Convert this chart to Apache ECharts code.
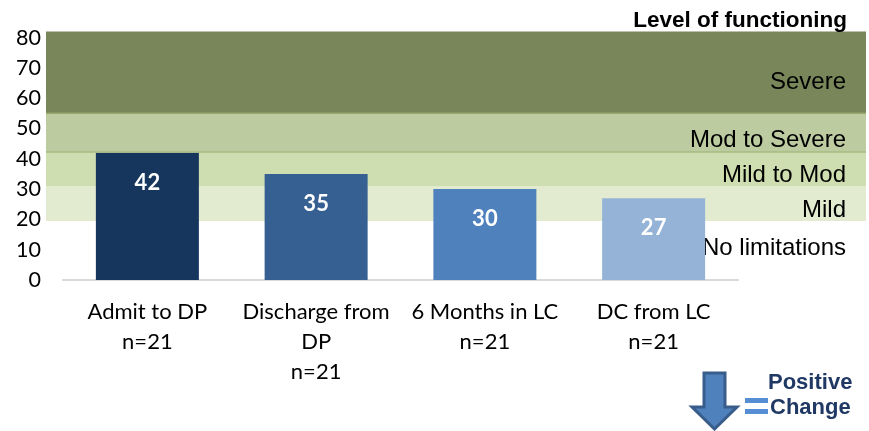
<!DOCTYPE html>
<html>
<head>
<meta charset="utf-8">
<script src="https://cdn.jsdelivr.net/npm/echarts@6/dist/echarts.min.js"></script>
<style>
html,body{margin:0;padding:0;background:#fff;}
#chart{width:869px;height:431px;}
</style>
</head>
<body>
<div id="chart"></div>
<script>
// ---- data ----
const categories = ['Admit to DP\nn=21', 'Discharge from\nDP\nn=21', '6 Months in LC\nn=21', 'DC from LC\nn=21'];
const values = [42, 35, 30, 27];
const barColors = ['#17365d', '#366092', '#4f81bd', '#95b3d7'];
const yMin = 0, yMax = 80, yInterval = 10;
const bandNames = ['No limitations', 'Mild', 'Mild to Mod', 'Mod to Severe', 'Severe'];
const bandBounds = [0, 19.5, 31, 42.2, 55.1, 82];
const bandColors = ['rgba(0,0,0,0)', '#e2eacf', '#cfdeb0', '#bccba0', '#78865a'];
const bandLabelOffsets = [-2, 6.5, 6.5, 7.5, 10];
const titleText = 'Level of functioning';

const chart = echarts.init(document.getElementById('chart'), null, {renderer: 'canvas'});

const bandAreas = bandNames.map((n, i) => [
  {yAxis: bandBounds[i], itemStyle: {color: bandColors[i]}},
  {yAxis: bandBounds[i + 1]}
]);
const labelAreas = bandNames.map((n, i) => [
  {yAxis: bandBounds[i], name: n, itemStyle: {color: 'rgba(0,0,0,0)'},
   label: {offset: [0, bandLabelOffsets[i]]}},
  {yAxis: bandBounds[i + 1]}
]);

const option = {
  animation: false,
  backgroundColor: '#fff',
  title: {
    text: titleText, right: 17, top: 4,
    textStyle: {fontFamily: 'Liberation Sans', fontWeight: 'bold', fontSize: 22.5, color: '#000'}
  },
  grid: [
    {left: 46, right: 3, top: 31.5, bottom: 151, containLabel: false},
    {left: 63, right: 131, top: 37.6, bottom: 151, containLabel: false}
  ],
  xAxis: [
    {gridIndex: 0, type: 'category', data: [''], show: false},
    {gridIndex: 1, type: 'category', data: categories,
     axisLine: {show: true, lineStyle: {color: '#d9d9d9', width: 2}},
     axisTick: {show: false},
     axisLabel: {fontFamily: 'Lato', fontSize: 22, color: '#000', lineHeight: 30, margin: 17, interval: 0}
    }
  ],
  yAxis: [
    {gridIndex: 0, type: 'value', min: 0, max: bandBounds[bandBounds.length - 1], show: false},
    {gridIndex: 1, type: 'value', min: yMin, max: yMax, interval: yInterval,
     axisLine: {show: false}, axisTick: {show: false}, splitLine: {show: false},
     axisLabel: {fontFamily: 'Lato', fontSize: 21.5, color: '#000', margin: 22}
    }
  ],
  series: [
    {
      type: 'line', xAxisIndex: 0, yAxisIndex: 0, data: [], z: 0, silent: true,
      markArea: {silent: true, data: bandAreas, label: {show: false}},
      markLine: {
        silent: true, symbol: 'none', label: {show: false},
        data: [
          {yAxis: bandBounds[4], lineStyle: {color: '#8d9d62', width: 1.5, type: 'solid'}},
          {yAxis: bandBounds[3], lineStyle: {color: '#a7bb82', width: 1.5, type: 'solid'}}
        ]
      }
    },
    {
      type: 'bar', xAxisIndex: 1, yAxisIndex: 1, z: 2,
      data: values.map((v, i) => ({value: v, itemStyle: {color: barColors[i]}})),
      barWidth: 103,
      label: {show: true, position: 'insideTop', distance: 19,
        fontFamily: 'Lato', fontWeight: 'bold', fontSize: 22, color: '#fff'}
    },
    {
      type: 'line', xAxisIndex: 0, yAxisIndex: 0, data: [], z: 10, silent: true,
      markArea: {
        silent: true, data: labelAreas,
        label: {show: true, position: 'insideRight', distance: 20,
          fontFamily: 'Liberation Sans', fontSize: 24, color: '#000'}
      }
    }
  ],
  graphic: [
    {type: 'polygon', z: 20,
     shape: {points: [[704, 373], [725, 373], [725, 407], [737, 407], [714.5, 429], [692, 407], [704, 407]]},
     style: {fill: '#4f81bd', stroke: '#385d8a', lineWidth: 3}},
    {type: 'rect', z: 20, shape: {x: 745, y: 398, width: 23, height: 5}, style: {fill: '#558ed5'}},
    {type: 'rect', z: 20, shape: {x: 745, y: 409, width: 23, height: 5}, style: {fill: '#558ed5'}},
    {type: 'text', z: 20, left: 768, top: 372,
     style: {text: 'Positive', fontFamily: 'Liberation Sans', fontWeight: 'bold', fontSize: 22, fill: '#1f3864'}},
    {type: 'text', z: 20, left: 770, top: 397,
     style: {text: 'Change', fontFamily: 'Liberation Sans', fontWeight: 'bold', fontSize: 22, fill: '#1f3864'}}
  ]
};
chart.setOption(option);
</script>
</body>
</html>
